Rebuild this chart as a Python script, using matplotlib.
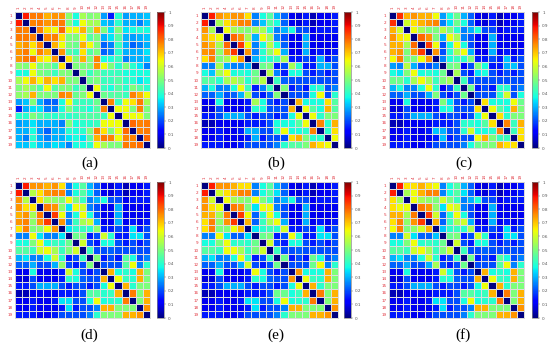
import numpy as np
import matplotlib
matplotlib.use('Agg')
import matplotlib.pyplot as plt

# lower triangles (row i, columns 1..i-1) of the 19x19 matrices
tri_a = [
    [],
    [0.88],
    [0.78, 0.77],
    [0.78, 0.78, 0.77],
    [0.72, 0.75, 0.67, 0.77],
    [0.75, 0.78, 0.64, 0.77, 0.72],
    [0.75, 0.78, 0.80, 0.67, 0.64, 0.75],
    [0.52, 0.50, 0.64, 0.50, 0.50, 0.45, 0.67],
    [0.38, 0.38, 0.64, 0.50, 0.48, 0.42, 0.50, 0.50],
    [0.55, 0.64, 0.72, 0.64, 0.72, 0.67, 0.72, 0.50, 0.50],
    [0.50, 0.55, 0.50, 0.45, 0.64, 0.45, 0.50, 0.50, 0.42, 0.48],
    [0.52, 0.55, 0.72, 0.50, 0.50, 0.50, 0.77, 0.75, 0.48, 0.50, 0.64],
    [0.28, 0.32, 0.50, 0.30, 0.22, 0.22, 0.38, 0.64, 0.42, 0.42, 0.42, 0.48],
    [0.15, 0.30, 0.35, 0.35, 0.25, 0.25, 0.38, 0.50, 0.42, 0.42, 0.38, 0.45, 0.77],
    [0.40, 0.40, 0.50, 0.45, 0.42, 0.40, 0.42, 0.40, 0.42, 0.45, 0.45, 0.45, 0.42, 0.64],
    [0.28, 0.30, 0.35, 0.30, 0.30, 0.30, 0.25, 0.50, 0.38, 0.40, 0.40, 0.42, 0.64, 0.64, 0.64],
    [0.30, 0.30, 0.38, 0.28, 0.22, 0.30, 0.30, 0.40, 0.38, 0.40, 0.50, 0.77, 0.67, 0.50, 0.64, 0.80],
    [0.30, 0.25, 0.40, 0.30, 0.25, 0.30, 0.30, 0.35, 0.38, 0.35, 0.45, 0.72, 0.78, 0.77, 0.64, 0.77, 0.77],
    [0.32, 0.32, 0.38, 0.32, 0.30, 0.35, 0.32, 0.25, 0.38, 0.38, 0.40, 0.64, 0.55, 0.50, 0.50, 0.78, 0.78, 0.80],
]

tri_b = [
    [],
    [0.88],
    [0.75, 0.55],
    [0.72, 0.67, 0.64],
    [0.75, 0.72, 0.55, 0.80],
    [0.75, 0.77, 0.52, 0.75, 0.85],
    [0.67, 0.77, 0.50, 0.55, 0.64, 0.75],
    [0.25, 0.25, 0.55, 0.30, 0.25, 0.25, 0.30],
    [0.38, 0.32, 0.55, 0.64, 0.38, 0.40, 0.38, 0.48],
    [0.45, 0.45, 0.40, 0.55, 0.57, 0.52, 0.40, 0.50, 0.57],
    [0.30, 0.38, 0.25, 0.25, 0.38, 0.64, 0.42, 0.15, 0.25, 0.42],
    [0.22, 0.22, 0.30, 0.20, 0.22, 0.30, 0.55, 0.20, 0.15, 0.22, 0.50],
    [0.10, 0.10, 0.38, 0.10, 0.10, 0.10, 0.15, 0.55, 0.38, 0.20, 0.15, 0.20],
    [0.08, 0.08, 0.20, 0.10, 0.10, 0.10, 0.15, 0.40, 0.38, 0.20, 0.20, 0.20, 0.72],
    [0.15, 0.15, 0.20, 0.30, 0.30, 0.30, 0.20, 0.15, 0.20, 0.20, 0.15, 0.20, 0.38, 0.64],
    [0.05, 0.05, 0.10, 0.10, 0.10, 0.10, 0.15, 0.15, 0.15, 0.20, 0.38, 0.38, 0.38, 0.45, 0.64],
    [0.10, 0.10, 0.15, 0.10, 0.10, 0.15, 0.30, 0.30, 0.20, 0.20, 0.40, 0.64, 0.38, 0.38, 0.40, 0.77],
    [0.10, 0.10, 0.15, 0.10, 0.10, 0.10, 0.15, 0.30, 0.15, 0.20, 0.20, 0.20, 0.67, 0.72, 0.50, 0.40, 0.40],
    [0.15, 0.15, 0.15, 0.10, 0.10, 0.15, 0.20, 0.20, 0.20, 0.20, 0.25, 0.40, 0.45, 0.45, 0.50, 0.72, 0.67, 0.64],
]

tri_c = [
    [],
    [0.86],
    [0.72, 0.60],
    [0.75, 0.67, 0.64],
    [0.72, 0.72, 0.55, 0.80],
    [0.72, 0.75, 0.50, 0.75, 0.85],
    [0.64, 0.77, 0.50, 0.50, 0.64, 0.75],
    [0.28, 0.25, 0.57, 0.30, 0.20, 0.20, 0.25],
    [0.38, 0.35, 0.50, 0.64, 0.38, 0.40, 0.38, 0.48],
    [0.48, 0.48, 0.40, 0.55, 0.64, 0.55, 0.42, 0.50, 0.55],
    [0.30, 0.38, 0.25, 0.25, 0.38, 0.64, 0.40, 0.10, 0.20, 0.42],
    [0.22, 0.22, 0.30, 0.20, 0.20, 0.30, 0.50, 0.20, 0.15, 0.20, 0.48],
    [0.10, 0.10, 0.38, 0.10, 0.10, 0.10, 0.15, 0.50, 0.35, 0.20, 0.15, 0.20],
    [0.08, 0.08, 0.20, 0.10, 0.10, 0.10, 0.15, 0.38, 0.38, 0.20, 0.20, 0.20, 0.67],
    [0.15, 0.15, 0.20, 0.30, 0.30, 0.30, 0.20, 0.15, 0.20, 0.20, 0.15, 0.20, 0.38, 0.64],
    [0.05, 0.05, 0.10, 0.10, 0.10, 0.10, 0.15, 0.15, 0.15, 0.20, 0.40, 0.40, 0.38, 0.45, 0.67],
    [0.10, 0.10, 0.15, 0.10, 0.10, 0.15, 0.32, 0.30, 0.20, 0.20, 0.40, 0.60, 0.38, 0.38, 0.40, 0.77],
    [0.10, 0.10, 0.15, 0.10, 0.10, 0.10, 0.15, 0.32, 0.15, 0.20, 0.20, 0.20, 0.64, 0.72, 0.50, 0.42, 0.42],
    [0.15, 0.15, 0.15, 0.10, 0.10, 0.15, 0.20, 0.20, 0.20, 0.20, 0.25, 0.38, 0.48, 0.50, 0.50, 0.72, 0.67, 0.67],
]

tri_d = [
    [],
    [0.88],
    [0.75, 0.57],
    [0.75, 0.67, 0.67],
    [0.72, 0.75, 0.55, 0.78],
    [0.75, 0.77, 0.52, 0.75, 0.85],
    [0.67, 0.77, 0.50, 0.52, 0.64, 0.75],
    [0.25, 0.25, 0.64, 0.35, 0.25, 0.25, 0.35],
    [0.38, 0.38, 0.50, 0.64, 0.38, 0.42, 0.40, 0.48],
    [0.45, 0.45, 0.42, 0.60, 0.64, 0.55, 0.42, 0.50, 0.60],
    [0.30, 0.35, 0.25, 0.25, 0.38, 0.60, 0.40, 0.15, 0.20, 0.42],
    [0.22, 0.22, 0.30, 0.20, 0.20, 0.30, 0.52, 0.20, 0.15, 0.20, 0.50],
    [0.10, 0.10, 0.38, 0.10, 0.10, 0.10, 0.15, 0.60, 0.38, 0.20, 0.15, 0.20],
    [0.08, 0.08, 0.20, 0.10, 0.10, 0.10, 0.15, 0.40, 0.38, 0.22, 0.20, 0.20, 0.72],
    [0.15, 0.15, 0.20, 0.30, 0.30, 0.30, 0.20, 0.15, 0.20, 0.20, 0.15, 0.20, 0.38, 0.64],
    [0.05, 0.05, 0.10, 0.10, 0.10, 0.10, 0.15, 0.15, 0.15, 0.20, 0.45, 0.45, 0.40, 0.42, 0.72],
    [0.10, 0.10, 0.15, 0.10, 0.10, 0.15, 0.35, 0.35, 0.20, 0.20, 0.38, 0.64, 0.38, 0.40, 0.40, 0.78],
    [0.10, 0.10, 0.15, 0.10, 0.10, 0.10, 0.15, 0.35, 0.15, 0.20, 0.20, 0.25, 0.72, 0.72, 0.50, 0.50, 0.50],
    [0.15, 0.15, 0.15, 0.10, 0.10, 0.15, 0.20, 0.20, 0.20, 0.20, 0.25, 0.40, 0.50, 0.50, 0.50, 0.72, 0.72, 0.75],
]

tri_e = [
    [],
    [0.88],
    [0.75, 0.60],
    [0.75, 0.67, 0.64],
    [0.72, 0.72, 0.55, 0.78],
    [0.67, 0.77, 0.52, 0.75, 0.85],
    [0.67, 0.77, 0.50, 0.50, 0.64, 0.72],
    [0.25, 0.25, 0.64, 0.35, 0.22, 0.22, 0.35],
    [0.38, 0.38, 0.50, 0.64, 0.40, 0.42, 0.40, 0.48],
    [0.45, 0.45, 0.42, 0.64, 0.64, 0.55, 0.42, 0.50, 0.60],
    [0.30, 0.35, 0.25, 0.25, 0.38, 0.64, 0.40, 0.15, 0.20, 0.42],
    [0.22, 0.22, 0.30, 0.20, 0.20, 0.30, 0.60, 0.20, 0.15, 0.20, 0.48],
    [0.10, 0.10, 0.38, 0.10, 0.10, 0.10, 0.15, 0.64, 0.38, 0.20, 0.15, 0.20],
    [0.08, 0.08, 0.20, 0.10, 0.10, 0.10, 0.15, 0.40, 0.38, 0.22, 0.20, 0.20, 0.75],
    [0.15, 0.15, 0.20, 0.30, 0.30, 0.30, 0.20, 0.15, 0.20, 0.20, 0.15, 0.20, 0.38, 0.64],
    [0.05, 0.05, 0.10, 0.10, 0.10, 0.10, 0.15, 0.15, 0.15, 0.20, 0.48, 0.48, 0.38, 0.42, 0.72],
    [0.10, 0.10, 0.15, 0.10, 0.10, 0.15, 0.35, 0.35, 0.20, 0.20, 0.38, 0.64, 0.38, 0.40, 0.40, 0.78],
    [0.10, 0.10, 0.15, 0.10, 0.10, 0.10, 0.15, 0.35, 0.15, 0.20, 0.20, 0.25, 0.72, 0.72, 0.50, 0.50, 0.50],
    [0.15, 0.15, 0.15, 0.10, 0.10, 0.15, 0.20, 0.20, 0.20, 0.20, 0.25, 0.40, 0.50, 0.50, 0.50, 0.72, 0.72, 0.75],
]

tri_f = [
    [],
    [0.88],
    [0.67, 0.55],
    [0.67, 0.64, 0.64],
    [0.72, 0.72, 0.55, 0.78],
    [0.67, 0.77, 0.52, 0.75, 0.85],
    [0.64, 0.77, 0.50, 0.52, 0.60, 0.72],
    [0.25, 0.25, 0.60, 0.35, 0.22, 0.22, 0.32],
    [0.38, 0.38, 0.50, 0.64, 0.40, 0.42, 0.40, 0.48],
    [0.45, 0.45, 0.42, 0.60, 0.64, 0.55, 0.42, 0.50, 0.60],
    [0.30, 0.35, 0.25, 0.25, 0.38, 0.60, 0.40, 0.15, 0.20, 0.42],
    [0.22, 0.22, 0.30, 0.20, 0.20, 0.30, 0.55, 0.20, 0.15, 0.20, 0.48],
    [0.10, 0.10, 0.38, 0.10, 0.10, 0.10, 0.15, 0.60, 0.38, 0.20, 0.15, 0.20],
    [0.08, 0.08, 0.20, 0.10, 0.10, 0.10, 0.15, 0.40, 0.38, 0.22, 0.20, 0.20, 0.72],
    [0.15, 0.15, 0.20, 0.30, 0.30, 0.30, 0.20, 0.15, 0.20, 0.20, 0.15, 0.20, 0.38, 0.64],
    [0.05, 0.05, 0.10, 0.10, 0.10, 0.10, 0.15, 0.15, 0.15, 0.20, 0.45, 0.45, 0.40, 0.42, 0.72],
    [0.10, 0.10, 0.15, 0.10, 0.10, 0.15, 0.35, 0.35, 0.20, 0.20, 0.38, 0.64, 0.38, 0.40, 0.40, 0.78],
    [0.10, 0.10, 0.15, 0.10, 0.10, 0.10, 0.15, 0.35, 0.15, 0.20, 0.20, 0.25, 0.72, 0.72, 0.50, 0.50, 0.50],
    [0.15, 0.15, 0.15, 0.10, 0.10, 0.15, 0.20, 0.20, 0.20, 0.20, 0.25, 0.40, 0.50, 0.50, 0.50, 0.72, 0.72, 0.75],
]

panel_labels = ['(a)', '(b)', '(c)', '(d)', '(e)', '(f)']
tick_labels = [str(i) for i in range(1, 20)]
cbar_ticks = [round(0.1 * i, 1) for i in range(11)]
cbar_labels = ['0', '0.1', '0.2', '0.3', '0.4', '0.5', '0.6', '0.7', '0.8', '0.9', '1']


def to_matrix(tri):
    n = len(tri)
    m = np.zeros((n, n))
    for i, row in enumerate(tri):
        m[i, :i] = row
    return m + m.T


fig = plt.figure(figsize=(5.5, 3.44), dpi=100)
W, H = 550.0, 344.0

# pixel boxes: heatmap (x0, x1), colorbar (x0, x1), row (y0, y1)
cols = [((15, 150), (157, 164)), ((201, 338), (344, 351)), ((389, 524), (532, 538))]
rows = [(12, 148), (182, 318)]
label_y = [163, 335]

tris = [tri_a, tri_b, tri_c, tri_d, tri_e, tri_f]
for k, tri in enumerate(tris):
    r, c = divmod(k, 3)
    (hx0, hx1), (cx0, cx1) = cols[c]
    y0, y1 = rows[r]
    ax = fig.add_axes([hx0 / W, 1 - y1 / H, (hx1 - hx0) / W, (y1 - y0) / H])
    cax = fig.add_axes([cx0 / W, 1 - y1 / H, (cx1 - cx0) / W, (y1 - y0) / H])

    m = to_matrix(tri)
    n = m.shape[0]
    mesh = ax.pcolormesh(np.arange(n + 1) + 0.5, np.arange(n + 1) + 0.5, m,
                         cmap='jet', vmin=0, vmax=1,
                         edgecolors='#dddddd', linewidth=0.5)
    ax.set_xlim(0.5, n + 0.5)
    ax.set_ylim(n + 0.5, 0.5)
    ax.xaxis.tick_top()
    ax.set_xticks(range(1, n + 1))
    ax.set_yticks(range(1, n + 1))
    ax.set_xticklabels(tick_labels, rotation=90, fontsize=3, color='#e0303a')
    ax.set_yticklabels(tick_labels, fontsize=3, color='#e0303a')
    ax.tick_params(length=0, pad=2)
    for s in ax.spines.values():
        s.set_color('#cccccc')
        s.set_linewidth(0.5)

    cb = fig.colorbar(mesh, cax=cax, ticks=cbar_ticks)
    cb.ax.set_yticklabels(cbar_labels, fontsize=3, color='#555555')
    cb.ax.tick_params(length=1.5, width=0.3, color='#555555', pad=1.5)
    cb.outline.set_edgecolor('#888888')
    cb.outline.set_linewidth(0.5)

    fig.text((hx0 + cx1) / 2 / W, 1 - label_y[r] / H, panel_labels[k],
             ha='center', va='center', fontsize=11,
             family='Liberation Serif')

fig.savefig('out.png', dpi=100)
